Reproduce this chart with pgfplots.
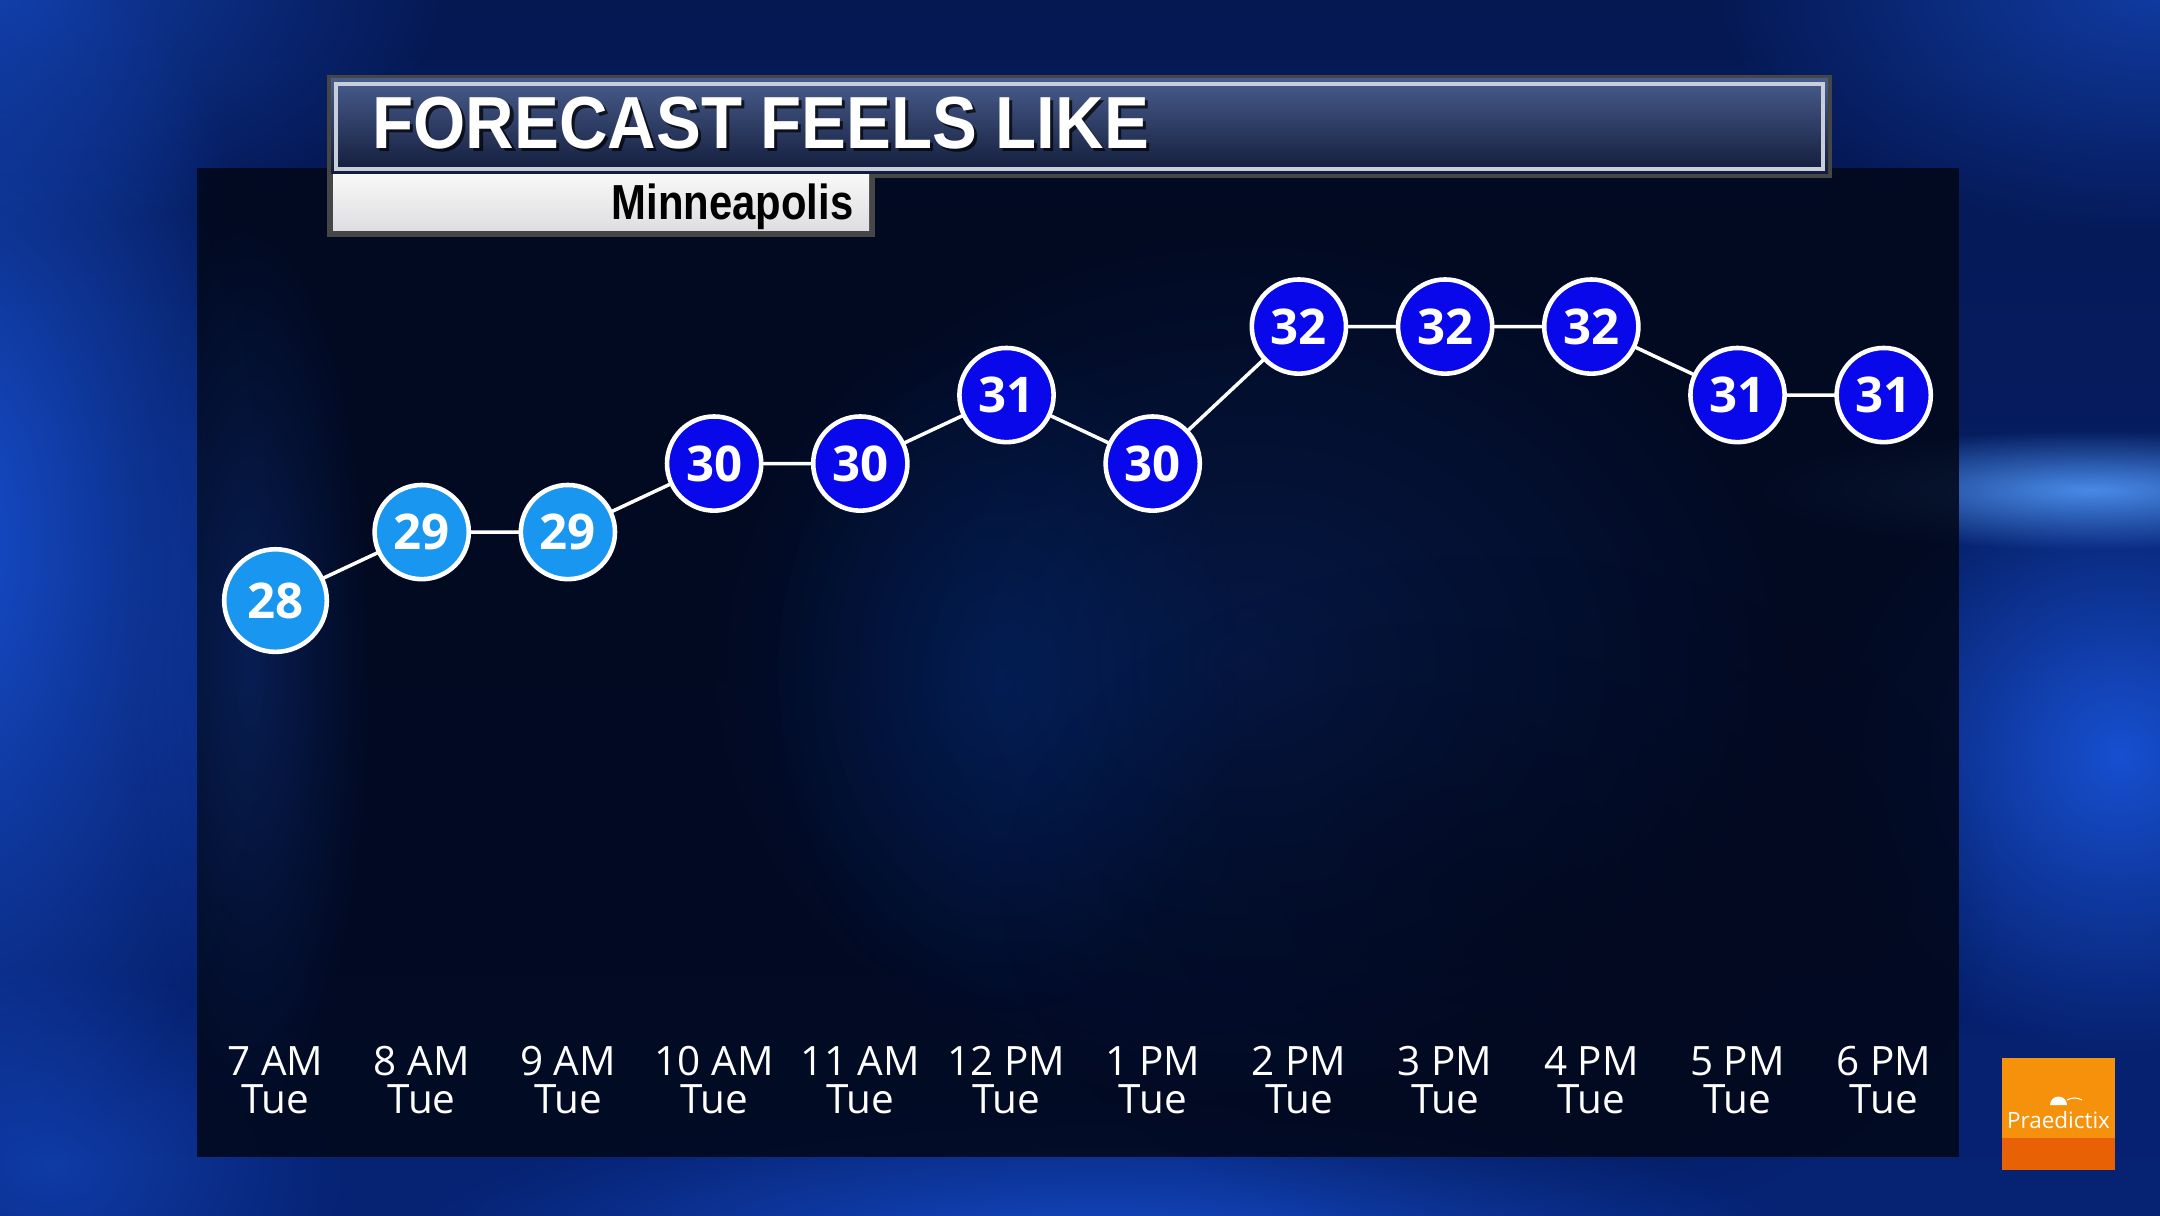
\documentclass[border=0pt]{standalone}
\usepackage{pgfplots}
\pgfplotsset{compat=1.18}
\usepackage{fontspec}
\setmainfont{Open Sans}
\newfontfamily\titlefont{Liberation Sans}
\usetikzlibrary{fadings}
\tikzfading[name=soft, inner color=transparent!0, outer color=transparent!100]
\definecolor{lightmark}{RGB}{25,150,240}
\definecolor{darkmark}{RGB}{8,8,235}
\definecolor{panelc}{RGB}{2,8,26}
\definecolor{bgtop}{RGB}{5,24,82}
\definecolor{bgbot}{RGB}{6,34,115}
\definecolor{glow}{RGB}{25,85,220}
\definecolor{streak}{RGB}{80,150,245}
\definecolor{orangeA}{RGB}{245,145,10}
\definecolor{orangeB}{RGB}{232,98,5}
\begin{document}
\begin{tikzpicture}
\useasboundingbox (0,0) rectangle (21.6,12.15);
\begin{scope}
\clip (0,0) rectangle (21.6,12.15);
\shade[top color=bgtop, bottom color=bgbot] (0,0) rectangle (21.6,12.15);
% background glows
\fill[glow, opacity=0.9, path fading=soft] (-0.6,6.8) ellipse (3.6 and 6.5);
\fill[glow, opacity=0.6, path fading=soft] (0,12.3) ellipse (4.5 and 2.5);
\fill[glow, opacity=0.6, path fading=soft] (21.6,12.3) ellipse (4.5 and 2.5);
\fill[glow, opacity=0.9, path fading=soft] (21.2,4.6) ellipse (3.0 and 3.0);
\fill[streak, opacity=0.9, path fading=soft] (20.9,7.25) ellipse (3.4 and 0.6);
\fill[glow, opacity=0.8, path fading=soft] (11.0,-0.4) ellipse (7.0 and 1.6);
\fill[glow, opacity=0.5, path fading=soft] (0.5,0.5) ellipse (3.0 and 2.0);
% panel
\fill[panelc, opacity=0.88] (1.97,0.58) rectangle (19.59,10.47);
\fill[teal!55!blue, opacity=0.22, path fading=soft] (10.0,5.4) ellipse (2.4 and 3.4);
\fill[glow, opacity=0.18, path fading=soft] (12.5,5.5) ellipse (5.5 and 4.5);
\fill[panelc, opacity=0.5, path fading=soft] (15.0,3.2) ellipse (5.0 and 3.4);
\fill[glow, opacity=0.25, path fading=soft] (2.5,5.5) ellipse (1.2 and 4.5);
\end{scope}
% title bar
\fill[gray!55!black] (3.27,10.37) rectangle (18.32,11.40);
\shade[top color={rgb,255:red,72;green,92;blue,140}, bottom color={rgb,255:red,18;green,28;blue,58}] (3.31,10.41) rectangle (18.28,11.36);
\draw[color={rgb,255:red,200;green,206;blue,218}, line width=1.4pt] (3.36,10.46) rectangle (18.23,11.31);
% subtitle box
\fill[gray!55!black] (3.27,9.78) rectangle (8.75,10.41);
\shade[top color={rgb,255:red,248;green,248;blue,248}, bottom color={rgb,255:red,222;green,222;blue,225}] (3.33,9.84) rectangle (8.69,10.40);
\node[anchor=base west, inner sep=0, text=black, opacity=0.7, font=\titlefont\bfseries\fontsize{21}{24}\selectfont] at (3.75,10.63) {\scalebox{0.91}[1]{FORECAST FEELS LIKE}};
\node[anchor=base west, inner sep=0, text=white, font=\titlefont\bfseries\fontsize{21}{24}\selectfont] at (3.72,10.66) {\scalebox{0.91}[1]{FORECAST FEELS LIKE}};
\node[anchor=base east, inner sep=0, text=black, font=\titlefont\bfseries\fontsize{14}{16}\selectfont] at (8.54,9.95) {\scalebox{0.85}[1]{Minneapolis}};
% logo
\fill[orangeA] (20.02,0.45) rectangle (21.15,1.57);
\fill[orangeB] (20.02,0.45) rectangle (21.15,0.77);
\node[text=white, inner sep=0, font=\fontsize{6.4}{7}\selectfont] at (20.585,0.95) {Praedictix};
\fill[white] (20.50,1.10) arc[start angle=180, end angle=0, radius=0.085] -- cycle;
\draw[white, line width=0.3pt] (20.67,1.15) arc[start angle=120, end angle=60, radius=0.15];
% chart
\begin{axis}[
  at={(1.97cm,0.58cm)}, anchor=south west, scale only axis,
  width=17.62cm, height=9.89cm,
  xmin=-0.537, xmax=11.515, ymin=19.877, ymax=34.315,
  axis line style={draw=none}, major tick length=0pt,
  ytick=\empty, xtick={0,...,11},
  xticklabels={{7 AM\\Tue},{8 AM\\Tue},{9 AM\\Tue},{10 AM\\Tue},{11 AM\\Tue},{12 PM\\Tue},{1 PM\\Tue},{2 PM\\Tue},{3 PM\\Tue},{4 PM\\Tue},{5 PM\\Tue},{6 PM\\Tue}},
  xticklabel style={anchor=center, yshift=0.77cm, align=center, text=white, font=\fontsize{11.5}{10.8}\selectfont},
  clip=false,
  point meta=explicit symbolic,
  nodes near coords, nodes near coords align=center,
  every node near coord/.append style={anchor=center, text=white, font=\bfseries\fontsize{14}{16}\selectfont},
]
\addplot[white, line width=1pt, no marks, nodes near coords=] coordinates {(0,28)(1,29)(2,29)(3,30)(4,30)(5,31)(6,30)(7,32)(8,32)(9,32)(10,31)(11,31)};
\addplot[only marks, mark=*, mark size=14.6pt, mark options={fill=lightmark, draw=white, line width=1.3pt}] coordinates {(0,28) [28]};
\addplot[only marks, mark=*, mark size=13.4pt, mark options={fill=lightmark, draw=white, line width=1.3pt}] coordinates {(1,29) [29] (2,29) [29]};
\addplot[only marks, mark=*, mark size=13.4pt, mark options={fill=darkmark, draw=white, line width=1.3pt}] coordinates {(3,30) [30] (4,30) [30] (5,31) [31] (6,30) [30] (7,32) [32] (8,32) [32] (9,32) [32] (10,31) [31] (11,31) [31]};
\end{axis}
\end{tikzpicture}
\end{document}
